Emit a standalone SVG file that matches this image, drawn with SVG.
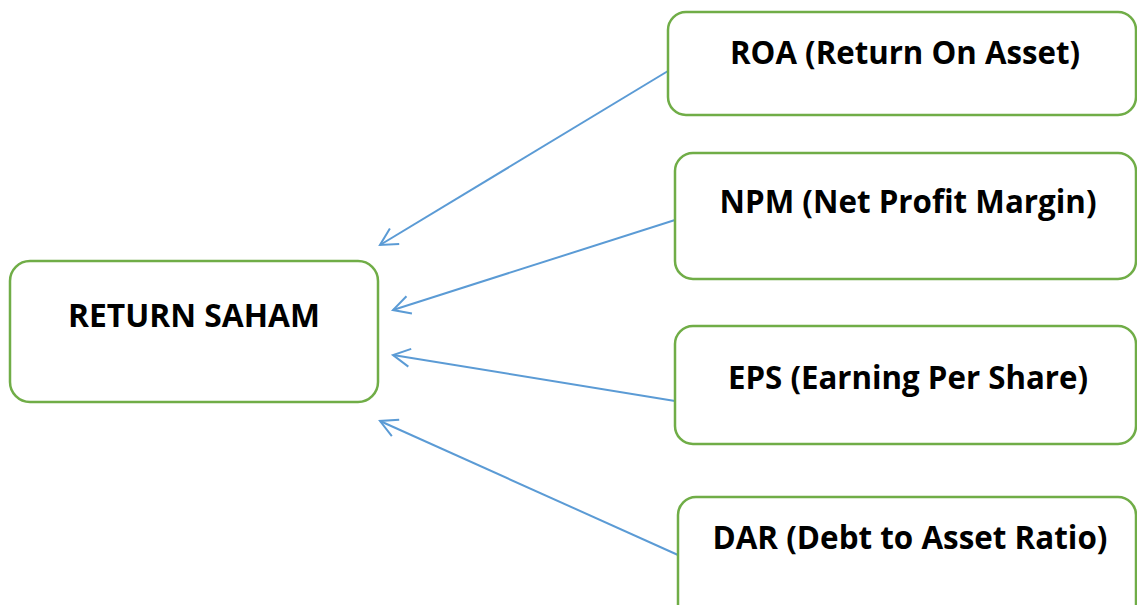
<svg xmlns="http://www.w3.org/2000/svg" width="1137" height="605" viewBox="0 0 1137 605">
  <style>
    .box { fill: #ffffff; stroke: #70ad47; stroke-width: 2.5; }
    .label { font-family: "Open Sans", "Liberation Sans", sans-serif; font-weight: bold; font-size: 32px; fill: #000000; text-anchor: middle; }
    .link { fill: none; stroke: #5b9bd5; stroke-width: 2; marker-end: url(#open-arrow); }
  </style>
  <defs>
    <marker id="open-arrow" markerUnits="userSpaceOnUse" markerWidth="24" markerHeight="24" viewBox="-20 -12 24 24" refX="0" refY="0" orient="auto">
      <path d="M -17 -9 L 0 0 L -17 9" fill="none" stroke="#5b9bd5" stroke-width="2"/>
    </marker>
  </defs>
  <rect width="1137" height="605" fill="#ffffff"/>

  <g id="connectors">
    <line class="link" x1="668" y1="71" x2="380" y2="245"/>
    <line class="link" x1="675" y1="220" x2="393" y2="310"/>
    <line class="link" x1="675" y1="401" x2="393" y2="355"/>
    <line class="link" x1="678" y1="555" x2="380" y2="421"/>
  </g>

  <g id="return-saham">
    <rect class="box" x="10" y="261" width="368" height="141" rx="20"/>
    <text class="label" x="194" y="327" textLength="252" lengthAdjust="spacingAndGlyphs">RETURN SAHAM</text>
  </g>

  <g id="roa">
    <rect class="box" x="668" y="12" width="468" height="103" rx="18"/>
    <text class="label" x="905" y="64" textLength="350" lengthAdjust="spacingAndGlyphs">ROA (Return On Asset)</text>
  </g>

  <g id="npm">
    <rect class="box" x="675" y="153" width="461" height="126" rx="18"/>
    <text class="label" x="908" y="213" textLength="377" lengthAdjust="spacingAndGlyphs">NPM (Net Profit Margin)</text>
  </g>

  <g id="eps">
    <rect class="box" x="675" y="326" width="461" height="118" rx="18"/>
    <text class="label" x="908" y="389" textLength="360" lengthAdjust="spacingAndGlyphs">EPS (Earning Per Share)</text>
  </g>

  <g id="dar">
    <rect class="box" x="678" y="497" width="458" height="126" rx="18"/>
    <text class="label" x="910" y="549" textLength="395" lengthAdjust="spacingAndGlyphs">DAR (Debt to Asset Ratio)</text>
  </g>
</svg>
